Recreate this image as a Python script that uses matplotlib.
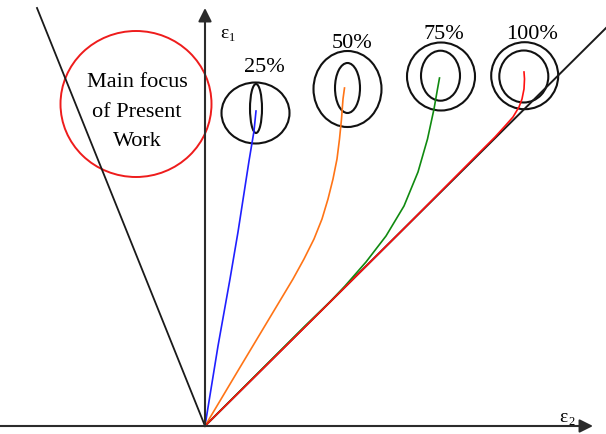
import matplotlib
matplotlib.use("Agg")
import matplotlib.pyplot as plt
from matplotlib.patches import Ellipse

plt.rcParams['font.family'] = ['Liberation Serif', 'DejaVu Serif']

# strain paths in the (eps2, eps1) plane, origin at the axes crossing
blue_x = [0, 13, 25, 33, 44, 49, 51]
blue_y = [0, 80, 147, 194, 265, 295, 315]

orange_x = [0, 34, 58, 76, 88, 99, 109, 117, 123, 128, 132, 134.5, 136.5, 138, 139.5]
orange_y = [0, 57, 97, 127, 147, 167, 187, 207, 227, 247, 267, 287, 307, 327, 338]

green_x = [0, 100, 125, 140, 161, 181, 199, 213, 222.5, 229, 232.5, 234.5]
green_y = [0, 100, 124, 140, 164, 190, 220, 254, 287, 317, 337, 348]

red_x = [0, 100, 200, 275, 290, 300, 308, 314, 317, 319, 319.5, 319]
red_y = [0, 99, 198.5, 274, 289, 300, 309, 319, 327, 337, 347, 354]

# forming limit boundary lines
left_line_x = [-168, 0]
left_line_y = [418, 0]
right_line_x = [0, 401]
right_line_y = [0, 398]

# strain ratio labels and the circle grids at the end of each path
ratio_labels = ['25%', '50%', '75%', '100%']
label_x = [59, 147, 239, 327]
label_y = [355, 379, 388, 388]
outer_cx = [50.5, 142.5, 236, 319.7]
outer_cy = [313, 337, 349.5, 350.3]
outer_w = [68, 68, 68, 67]
outer_h = [61, 76, 68, 67]
inner_cx = [51, 142.5, 235.5, 318.8]
inner_cy = [317.5, 338, 350.3, 349.5]
inner_w = [12, 25, 39, 49]
inner_h = [49, 50, 50, 52]

focus_lines = ['Main focus', 'of Present', 'Work']
focus_y = [340, 310, 281]

fig = plt.figure(figsize=(6.06, 4.35), dpi=100)
ax = fig.add_axes([0, 0, 1, 1])
ax.set_xlim(-205, 401)
ax.set_ylim(-8, 427)
ax.axis('off')

axis_color = '#2b2b2b'
ax.annotate('', xy=(388, 0), xytext=(-206, 0),
            arrowprops=dict(arrowstyle='-|>', mutation_scale=20, lw=1.5,
                            color=axis_color, shrinkA=0, shrinkB=0))
ax.annotate('', xy=(0, 418), xytext=(0, 0),
            arrowprops=dict(arrowstyle='-|>', mutation_scale=20, lw=1.5,
                            color=axis_color, shrinkA=0, shrinkB=0))

ax.plot(left_line_x, left_line_y, color='#1a1a1a', lw=1.3)
ax.plot(right_line_x, right_line_y, color='#1a1a1a', lw=1.4)

ax.plot(blue_x, blue_y, color='#1f1fff', lw=1.2)
ax.plot(orange_x, orange_y, color='#ff7416', lw=1.2)
ax.plot(green_x, green_y, color='#108a10', lw=1.2)
ax.plot(red_x, red_y, color='#ff1010', lw=1.2)

for i in range(4):
    ax.add_patch(Ellipse((outer_cx[i], outer_cy[i]), outer_w[i], outer_h[i],
                         fill=False, ec='#111111', lw=1.5))
    ax.add_patch(Ellipse((inner_cx[i], inner_cy[i]), inner_w[i], inner_h[i],
                         fill=False, ec='#111111', lw=1.5))
    ax.text(label_x[i], label_y[i], ratio_labels[i], fontsize=16,
            ha='center', va='baseline')

ax.add_patch(Ellipse((-69, 322), 151, 146, fill=False, ec='#ee1c1c', lw=1.4))
for line, y in zip(focus_lines, focus_y):
    ax.text(-68, y, line, fontsize=16, ha='center', va='baseline')

# axis labels
ax.text(15, 389, '\u03b5', fontsize=14, ha='left', va='baseline')
ax.text(24, 386, '1', fontsize=9, ha='left', va='baseline')
ax.text(354, 5, '\u03b5', fontsize=14, ha='left', va='baseline')
ax.text(363, 2, '2', fontsize=9, ha='left', va='baseline')

fig.savefig('out.png', dpi=100)
